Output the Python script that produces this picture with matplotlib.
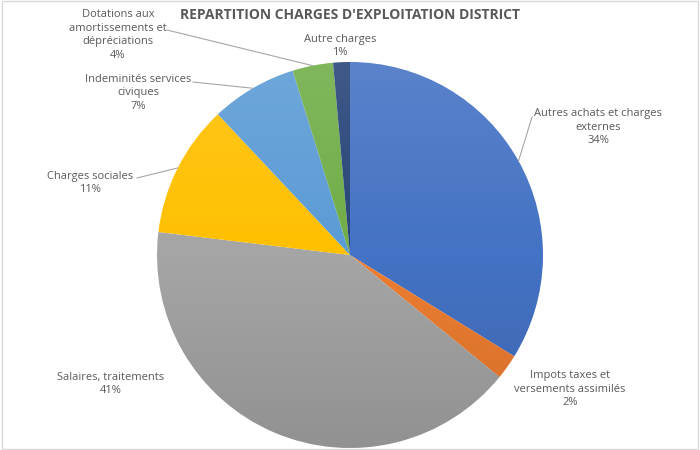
import numpy as np
import matplotlib.pyplot as plt
from matplotlib.patches import Circle, Rectangle

# données (en %)
labels = ['Autres achats et charges\nexternes', 'Impots taxes et\nversements assimilés',
          'Salaires, traitements', 'Charges sociales', 'Indeminités services\nciviques',
          'Dotations aux\namortissements et\ndépréciations', 'Autre charges']
values = [33.8, 2.1, 41.0, 11.1, 7.2, 3.4, 1.4]
pct_labels = ['34%', '2%', '41%', '11%', '7%', '4%', '1%']
colors = ['#4472C4', '#ED7D31', '#A5A5A5', '#FFC000', '#5B9BD5', '#70AD47', '#264478']

# position des étiquettes (pixels, y depuis le haut) et si une ligne de rappel est tracée
label_pos = [(598, 127), (570, 389), (111, 384), (90, 183), (138, 93), (118, 35), (340, 46)]
leader_start = [(532, 117), None, None, (137, 178), (193, 82), (167, 30), None]

W, H = 700, 450
cx, cy, r = 350, 255, 193
txt_col = '#595959'

fig = plt.figure(figsize=(7, 4.5), dpi=100)
ax = fig.add_axes([0, 0, 1, 1])

wedges, _ = ax.pie(values, colors=colors, startangle=90, counterclock=False,
                   center=(cx, H - cy), radius=r, frame=True,
                   wedgeprops=dict(linewidth=0))
ax.set_xlim(0, W)
ax.set_ylim(0, H)
ax.axis('off')

# léger dégradé vertical sur le disque (clair en haut, sombre en bas)
grad = np.linspace(1, -1, 256)
rgba = np.zeros((256, 1, 4))
rgba[:, 0, 0] = rgba[:, 0, 1] = rgba[:, 0, 2] = (grad > 0).astype(float)
rgba[:, 0, 3] = np.abs(grad) * 0.12
im = ax.imshow(rgba, extent=(cx - r, cx + r, H - cy - r, H - cy + r), aspect='auto',
               origin='upper', zorder=3)
clip = Circle((cx, H - cy), r, transform=ax.transData)
im.set_clip_path(clip)
ax.set_xlim(0, W)
ax.set_ylim(0, H)

for w, lab, pct, pos, ls in zip(wedges, labels, pct_labels, label_pos, leader_start):
    ax.text(pos[0], H - pos[1], lab + '\n' + pct, ha='center', va='center',
            fontsize=8, color=txt_col, family='Open Sans', linespacing=1.35, zorder=5)
    if ls is not None:
        mid = np.deg2rad((w.theta1 + w.theta2) / 2)
        ex, ey = cx + r * np.cos(mid), (H - cy) + r * np.sin(mid)
        ax.plot([ls[0], ex], [H - ls[1], ey], color='#A6A6A6', linewidth=0.8, zorder=4)

ax.text(W / 2, H - 15, "REPARTITION CHARGES D'EXPLOITATION DISTRICT", ha='center', va='center',
        fontsize=10, fontweight='bold', color=txt_col, family='Open Sans')

fig.patches.append(Rectangle((0.003, 0.003), 0.994, 0.994, transform=fig.transFigure,
                             fill=False, edgecolor='#D9D9D9', linewidth=1))

fig.savefig('out.png', dpi=100)
